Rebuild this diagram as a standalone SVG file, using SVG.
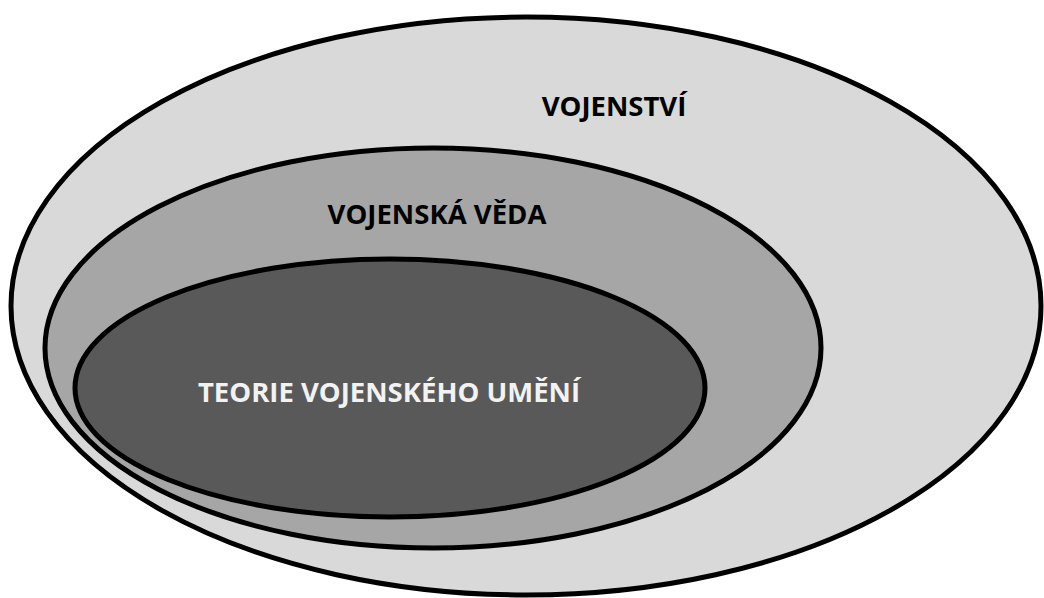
<svg xmlns="http://www.w3.org/2000/svg" width="1044" height="598" viewBox="0 0 1044 598">
<style>
.e{stroke:#000;stroke-width:5}
.t{font-family:"Open Sans","Liberation Sans",sans-serif;font-weight:bold;font-size:27.5px;text-anchor:middle}
</style>
<rect width="1044" height="598" fill="#fff"/>
<g id="vojenstvi">
<ellipse class="e" cx="526" cy="306" rx="515" ry="289" fill="#d9d9d9"/>
<text class="t" x="614" y="116" fill="#000">VOJENSTVÍ</text>
</g>
<g id="vojenska-veda">
<ellipse class="e" cx="433" cy="348" rx="388" ry="200" fill="#a6a6a6"/>
<text class="t" x="437" y="224" fill="#000">VOJENSKÁ VĚDA</text>
</g>
<g id="teorie">
<ellipse class="e" cx="390" cy="388" rx="315" ry="129" fill="#595959"/>
<text class="t" x="389" y="402" fill="#f2f2f2">TEORIE VOJENSKÉHO UMĚNÍ</text>
</g>
<g id="connectors"/>
</svg>
